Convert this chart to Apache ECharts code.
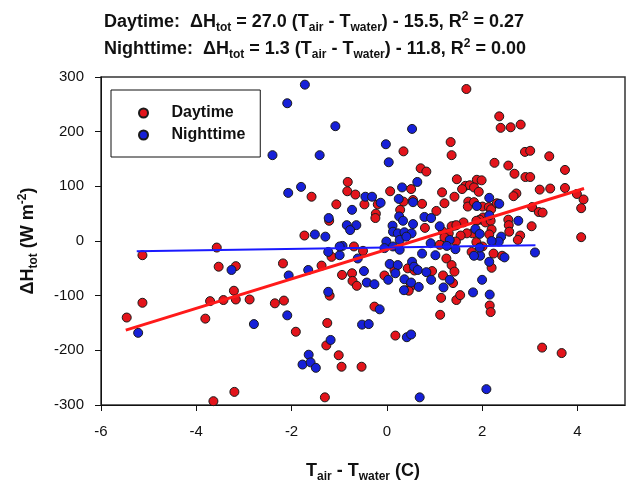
<!DOCTYPE html>
<html>
<head>
<meta charset="utf-8">
<script src="https://cdn.jsdelivr.net/npm/echarts@6/dist/echarts.min.js"></script>
<style>html,body{margin:0;padding:0;background:#fff;}#c{width:630px;height:481px;}</style>
</head>
<body>
<div id="c"></div>
<script>
// ---- data ----
const seriesNames = ['Daytime', 'Nighttime'];
const xTicks = [-6, -4, -2, 0, 2, 4];
const yTicks = [-300, -200, -100, 0, 100, 200, 300];

const dayPoints = [
[1.34,181],[0.35,164],[1.36,157],[0.71,133],[0.83,127],[1.47,113],[-0.82,108],[-1.58,81],[-0.83,91],[-0.66,85],[0.07,91],[0.51,95],[1.16,89],[1.42,81],[0.35,72],[0.55,75],[0.74,68],[1.21,69],[-1.06,67],[-0.47,67],[-0.19,67],[0.28,57],[1.04,55],[-0.23,50],[-0.24,42],[-1.21,37],[0.80,24],[1.42,28],[1.18,17],[-1.73,10],[1.11,-7],[-0.69,-10],
[1.67,278],[2.36,228],[2.39,207],[2.60,208],[2.81,213],[2.90,163],[3.01,165],[3.41,155],[2.26,143],[2.55,138],[3.74,130],[2.68,123],[2.91,117],[3.01,117],[1.89,112],[1.99,111],[1.65,101],[1.74,102],[1.83,98],[1.58,95],[1.93,90],[3.21,94],[3.43,96],[3.74,97],[3.99,86],[4.13,76],[4.08,60],[2.72,87],[2.66,82],[1.71,72],[1.70,63],[1.83,71],[2.01,63],[2.14,62],[2.19,58],[2.31,69],[3.05,62],[3.19,53],[3.27,52],[2.02,43],[1.95,39],[1.88,37],[2.07,34],[2.18,37],[2.55,39],[2.56,29],[2.57,17],[3.04,27],[1.61,34],[1.36,27],[1.46,29],[2.20,21],[1.80,14],[1.68,14],[1.55,10],[1.30,14],[1.21,7],[1.45,-1],[2.15,12],[2.80,10],[2.75,2],[4.08,7],[1.88,-2],
[-3.57,-12],[-5.13,-26],[-3.53,-47],[-3.17,-46],[-3.21,-91],[-5.13,-113],[-3.71,-110],[-3.43,-108],[-3.17,-107],[-2.88,-107],[-5.46,-140],[-3.81,-142],[-3.20,-276],[-3.64,-293],
[-2.18,-41],[-1.37,-45],[-1.16,-29],[-0.50,-18],[-0.94,-62],[-0.73,-59],[-0.72,-73],[-0.63,-82],[-0.05,-63],[0.16,-53],[0.44,-50],[0.58,-54],[0.49,-84],[0.46,-91],[0.95,-55],[1.25,-32],[1.18,-63],[1.36,-44],[1.42,-56],[1.39,-77],[1.14,-104],[1.46,-108],[1.12,-135],[-2.35,-114],[-2.16,-109],[-1.20,-100],[-0.26,-120],[-1.25,-150],[-1.91,-166],[0.18,-173],[-1.27,-191],[-1.01,-209],[-0.95,-230],[-0.53,-230],[-1.30,-286],
[1.54,-99],[2.16,-118],[2.18,-130],[3.26,-195],[3.67,-205],[2.20,-49],[2.42,-27],[1.78,-20],[2.01,-10],[2.24,-23]
];

const nightPoints = [
[-1.72,286],[-2.09,252],[-1.08,210],[0.53,205],[-2.40,157],[-1.41,157],[-0.02,177],[0.04,144],[0.64,108],[-1.80,99],[-2.07,88],[-0.45,81],[-0.31,81],[0.32,98],[0.25,77],[0.55,71],[-0.13,70],[-0.73,57],[-1.22,42],[0.26,45],[0.34,37],[0.79,44],[0.93,42],[0.55,31],[-0.84,29],[-0.64,29],[-0.77,20],[1.11,27],[0.12,28],[0.13,17],[0.23,14],[0.37,16],[0.52,14],[-1.51,12],[-1.29,8],[-0.01,-1],[0.27,2],[0.41,8],[0.92,-4],[-0.93,-9],
[2.15,79],[1.89,64],[2.36,68],[2.15,47],[2.76,37],[1.86,22],[1.95,13],[1.32,2],[2.40,8],[2.35,-1],[2.20,0],
[-3.26,-53],[-5.22,-168],[-2.79,-152],
[-2.06,-63],[-1.65,-53],[-1.23,-20],[-0.99,-26],[-0.61,-32],[-0.48,-55],[-0.42,-76],[-0.26,-79],[0.03,-71],[0.06,-42],[0.23,-44],[0.18,-59],[0.53,-38],[0.57,-47],[0.65,-53],[0.37,-70],[0.51,-76],[0.36,-90],[0.67,-84],[0.74,-23],[0.83,-57],[0.93,-71],[1.02,-26],[1.19,-85],[1.32,-71],[-2.09,-136],[-1.23,-93],[-0.15,-125],[-0.52,-153],[-0.38,-152],[0.42,-176],[0.51,-171],[-1.18,-181],[-1.64,-208],[-1.77,-226],[-1.60,-222],[-1.49,-232],[0.69,-286],[-0.99,-10],
[3.11,-21],[2.00,-71],[1.81,-94],[2.16,-98],[2.09,-271],[2.15,-38],[2.47,-30],[1.96,-27],[1.83,-27],[1.95,-12],[1.44,-15],[1.26,-9],
[0.13,-10],[0.27,-16],[-0.05,-13]
];

// regression line end points
const dayFit = [[-5.48,-163],[4.14,96]];
const nightFit = [[-5.25,-18.6],[3.12,-7.7]];

// ---- chart ----
const RED = '#e3141b', BLUE = '#1620d8';
const chart = echarts.init(document.getElementById('c'), null, {renderer: 'canvas'});
const FONT = 'Liberation Sans, Arial, sans-serif';
const rich = {
  m: {fontSize: 18, fontWeight: 'bold', fontFamily: FONT, color: '#111', lineHeight: 27},
  s: {fontSize: 12, fontWeight: 'bold', fontFamily: FONT, color: '#111', lineHeight: 12, padding: [11, 0, 0, 0]},
  p: {fontSize: 12, fontWeight: 'bold', fontFamily: FONT, color: '#111', lineHeight: 12, padding: [0, 0, 11, 0]}
};
chart.setOption({
  animation: false,
  backgroundColor: '#fff',
  title: {
    left: 99, top: 4,
    text: '{m|Daytime:  ΔH}{s|tot}{m| = 27.0 (T}{s|air}{m| - T}{s|water}{m|) - 15.5, R}{p|2}{m| = 0.27}\n' +
          '{m|Nighttime:  ΔH}{s|tot}{m| = 1.3 (T}{s|air}{m| - T}{s|water}{m|) - 11.8, R}{p|2}{m| = 0.00}',
    textStyle: {rich: rich}
  },
  legend: {
    data: [{name: 'Daytime', icon: 'circle'}, {name: 'Nighttime', icon: 'circle'}],
    orient: 'vertical', left: 111, top: 90,
    padding: [14, 15, 13, 27],
    itemWidth: 46, itemHeight: 9, itemGap: 4,
    borderColor: '#111', borderWidth: 1,
    textStyle: {fontSize: 16, fontWeight: 'bold', fontFamily: FONT, color: '#111', lineHeight: 18}
  },
  grid: {left: 101, right: 5, top: 77, bottom: 76, show: true, borderColor: '#333', borderWidth: 1.5,
         outerBoundsMode: 'none', containLabel: false},
  xAxis: {
    type: 'value', min: -6, max: 5, interval: 2,
    name: '{m|T}{s|air}{m| - T}{s|water}{m| (C)}',
    nameLocation: 'middle', nameGap: 53,
    nameTextStyle: {rich: rich},
    axisLine: {show: true, onZero: false, lineStyle: {color: '#111', width: 1}},
    axisTick: {show: true, length: 6, lineStyle: {color: '#111'}},
    axisLabel: {fontSize: 15, fontFamily: FONT, color: '#111', margin: 19, showMaxLabel: false},
    splitLine: {show: false}
  },
  yAxis: {
    type: 'value', min: -300, max: 300, interval: 100,
    name: '{m|ΔH}{s|tot}{m| (W m}{p|-2}{m|)}',
    nameLocation: 'middle', nameGap: 59, nameRotate: 90,
    nameTextStyle: {rich: rich},
    axisLine: {show: true, onZero: false, lineStyle: {color: '#111', width: 1}},
    axisTick: {show: true, length: 6, lineStyle: {color: '#111'}},
    axisLabel: {fontSize: 15, fontFamily: FONT, color: '#111', margin: 17},
    splitLine: {show: false}
  },
  series: [
    {name: 'Daytime', type: 'scatter', data: dayPoints, symbol: 'circle', symbolSize: 9,
     itemStyle: {color: RED, borderColor: '#1a1a1a', borderWidth: 1, opacity: 1}, z: 2},
    {name: 'Nighttime', type: 'scatter', data: nightPoints, symbol: 'circle', symbolSize: 9,
     itemStyle: {color: BLUE, borderColor: '#1a1a1a', borderWidth: 1, opacity: 1}, z: 3},
    {name: 'dayFit', type: 'line', data: dayFit, showSymbol: false, silent: true,
     lineStyle: {color: '#ff1a1a', width: 3}, z: 5},
    {name: 'nightFit', type: 'line', data: nightFit, showSymbol: false, silent: true,
     lineStyle: {color: '#1a1aff', width: 2}, z: 5}
  ]
});
</script>
</body>
</html>
